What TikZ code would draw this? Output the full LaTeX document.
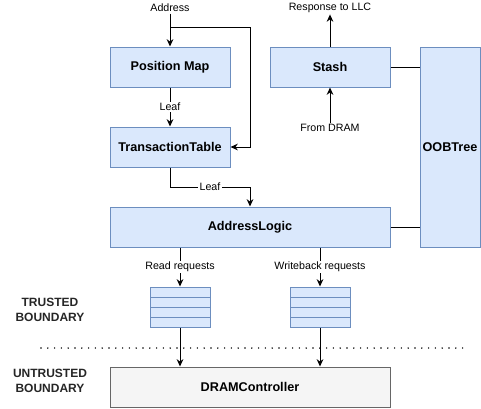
\documentclass[tikz,border=0pt]{standalone}
\usepackage{fontspec}
\setmainfont{Liberation Sans}
\usetikzlibrary{arrows.meta}
\definecolor{bfill}{HTML}{DAE8FC}
\definecolor{bdraw}{HTML}{6C8EBF}
\definecolor{gfill}{HTML}{F5F5F5}
\definecolor{gdraw}{HTML}{666666}
\begin{document}
\begin{tikzpicture}[x=0.75pt,y=-0.75pt,
  blk/.style={draw=bdraw,fill=bfill,line width=0.75pt,inner sep=0pt,font=\fontsize{9.5pt}{11pt}\selectfont\bfseries},
  lbl/.style={font=\fontsize{8pt}{10pt}\selectfont,fill=white,inner sep=1pt},
  bnd/.style={font=\fontsize{9pt}{11pt}\selectfont\bfseries,align=center,text=black!85},
  arr/.style={line width=0.75pt,-{Stealth[length=5.5pt,width=5pt]}},
  ln/.style={line width=0.75pt}]
\useasboundingbox (0,0) rectangle (481,408);
\node[blk,minimum width=90pt,minimum height=30pt] (pm) at (170,67) {Position Map};
\node[blk,minimum width=90pt,minimum height=30pt] (tt) at (170,147) {TransactionTable};
\node[blk,minimum width=90pt,minimum height=30pt] (st) at (330,67) {Stash};
\node[blk,minimum width=45pt,minimum height=150pt] (oob) at (450,147) {OOBTree};
\node[blk,minimum width=210pt,minimum height=30pt] (al) at (250,227) {AddressLogic};
\node[blk,minimum width=210pt,minimum height=30pt,draw=gdraw,fill=gfill] (dc) at (250,387) {DRAMController};
% queues
\foreach \n/\x in {q1/180,q2/320}{
  \node[draw=bdraw,fill=bfill,line width=0.75pt,minimum width=45pt,minimum height=30pt,inner sep=0pt] (\n) at (\x,307) {};
  \draw[bdraw,line width=0.75pt] (\x-30,297) -- (\x+30,297) (\x-30,307) -- (\x+30,307) (\x-30,317) -- (\x+30,317);
}
% labels
\node[lbl] (addr) at (170,8) {Address};
\node[lbl] (resp) at (330,8) {Response to LLC};
\node[lbl] (fd) at (330,128) {From DRAM};
\coordinate (br) at (170,27);
\coordinate (brr) at (250,27);
\coordinate (l2a) at (170,187);
\coordinate (l2b) at (250,187);
\draw[arr] (addr) -- (pm);
\draw[arr] (br) -- (brr) -- (tt.east -| brr) -- (tt.east);
\draw[arr] (pm) -- node[lbl] {Leaf} (tt);
\draw[ln] (tt) -- (l2a) -- (l2b);
\draw[arr] (l2b) -- (l2b |- al.north);
\node[lbl] at (210,187) {Leaf};
\draw[arr] (st) -- (resp);
\draw[arr] (fd) -- (st);
\draw[ln] (st.east) -- (st.east -| oob.west);
\draw[ln] (al.east) -- (al.east -| oob.west);
\draw[arr] (al.south -| q1) -- node[lbl,pos=0.5] {Read requests} (q1.north);
\draw[arr] (al.south -| q2) -- node[lbl,pos=0.5] {Writeback requests} (q2.north);
\draw[arr] (q1) -- (q1 |- dc.north);
\draw[arr] (q2) -- (q2 |- dc.north);
\draw[line width=1.2pt,dotted,line cap=round,dash pattern=on 0pt off 5.1pt] (41,348) -- (467,348);
\node[bnd] (tb) at (50,310) {TRUSTED\\BOUNDARY};
\node[bnd] (ub) at (50,381) {UNTRUSTED\\BOUNDARY};
\end{tikzpicture}
\end{document}
